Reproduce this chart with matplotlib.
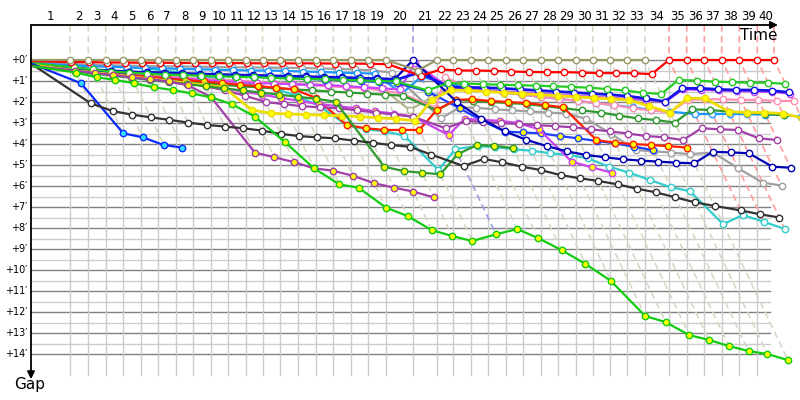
import matplotlib
matplotlib.use("Agg")
import matplotlib.pyplot as plt
from matplotlib.colors import to_rgb

# ---------------- data ----------------
# leader's cumulative time (minutes) at the end of laps 1..40
lap_times = [3.90, 5.73, 7.47, 9.23, 10.97, 12.73, 14.47, 16.23, 17.97, 19.70,
             21.47, 23.15, 24.90, 26.67, 28.47, 30.23, 31.97, 33.73, 35.50, 38.20,
             40.57, 42.23, 44.00, 45.73, 47.47, 49.23, 50.97, 52.73, 54.47, 56.17,
             57.90, 59.63, 61.40, 63.80, 65.57, 67.33, 69.07, 70.83, 72.63, 74.30]
lap_labels = ["1", "2", "3", "4", "5", "6", "7", "8", "9", "10",
              "11", "12", "13", "14", "15", "16", "17", "18", "19", "20",
              "21", "22", "23", "24", "25", "26", "27", "28", "29", "30",
              "31", "32", "33", "34", "35", "36", "37", "38", "39", "40"]
gap_ticks = [0, 1, 2, 3, 4, 5, 6, 7, 8, 9, 10, 11, 12, 13, 14]
gap_labels = ["+0′", "+1′", "+2′", "+3′", "+4′", "+5′", "+6′", "+7′",
              "+8′", "+9′", "+10′", "+11′", "+12′", "+13′", "+14′"]

# gaps (minutes) per rider, index 0 = start, then laps 1..N
olive = [0, 0, 0, 0, 0, 0, 0, 0, 0, 0, 0, 0, 0, 0, 0, 0, 0, 0, 0, 0, 0.5,
         0, 0, 0, 0, 0, 0, 0, 0, 0, 0, 0, 0, 0]
red = [0.05, 0.10, 0.10, 0.12, 0.12, 0.13, 0.13, 0.14, 0.14, 0.15, 0.15,
       0.15, 0.16, 0.16, 0.16, 0.16, 0.17, 0.17, 0.18, 0.20, 0.75,
       0.45, 0.50, 0.50, 0.52, 0.55, 0.57, 0.58, 0.58, 0.60, 0.62,
       0.62, 0.63, 0.67, 0, 0, 0, 0, 0, 0, 0]
gray = [0.1, 0.2, 0.22, 0.25, 0.27, 0.28, 0.3, 0.3, 0.32, 0.33, 0.35,
        0.35, 0.36, 0.37, 0.38, 0.4, 0.42, 0.45, 0.5, 0.6, 2.78,
        2.27, 2.27, 2.35, 2.4, 2.45, 2.5, 2.55, 2.8, 3.5, 4.29,
        4.35, 4.41, 4.48, 4.41, 5.16, 5.84, 5.98]
dodger = [0.15, 0.25, 0.3, 0.32, 0.35, 0.38, 0.4, 0.42, 0.44, 0.46, 0.48,
          0.5, 0.5, 0.52, 0.55, 0.57, 0.6, 0.62, 0.65, 1.6, 0.8,
          1.1, 1.3, 1.45, 1.55, 1.65, 1.75, 1.85, 1.95, 2.05, 2.15,
          2.25, 2.38, 2.46, 2.57, 2.57, 2.57, 2.58, 2.6, 2.62, 2.7]
navy = [0.2, 0.35, 0.45, 0.5, 0.55, 0.58, 0.6, 0.63, 0.65, 0.68, 0.7,
        0.72, 0.74, 0.76, 0.78, 0.8, 0.82, 0.85, 0.88, 0.9, 0.0,
        2.0, 2.8, 3.4, 3.8, 4.1, 4.35, 4.52, 4.63, 4.73, 4.79,
        4.84, 4.89, 4.92, 4.37, 4.4, 4.44, 5.08, 5.13]
blue2 = [0.2, 0.4, 0.5, 0.55, 0.6, 0.62, 0.65, 0.68, 0.7, 0.72, 0.74,
         0.76, 0.78, 0.8, 0.82, 0.84, 0.86, 0.88, 0.9, 0.95, 0.6,
         1.3, 1.3, 1.32, 1.35, 1.4, 1.45, 1.5, 1.55, 1.6, 1.65,
         1.72, 1.83, 1.98, 1.35, 1.35, 1.4, 1.43, 1.43, 1.46, 1.54]
violet = [0.25, 0.5, 0.6, 0.68, 0.75, 0.8, 0.85, 0.9, 0.95, 1.0, 1.05,
          1.1, 1.12, 1.15, 1.18, 1.2, 1.25, 1.3, 1.35, 1.4, 0.15,
          1.35, 1.4, 1.45, 1.5, 1.55, 1.6, 1.65, 1.7, 1.75, 1.8,
          1.85, 1.9, 2.0, 1.4, 1.42, 1.45, 1.48, 1.5, 1.52, 1.6]
khaki = [0.2, 0.45, 0.55, 0.62, 0.7, 0.75, 0.8, 0.85, 0.9, 0.95, 1.0,
         1.05, 1.08, 1.1, 1.15, 1.2, 1.25, 1.3, 1.35, 2.38, 1.8,
         1.3, 1.4, 1.48, 1.55, 1.6, 1.65, 1.7, 1.75, 1.8, 1.85,
         1.9, 1.95, 1.98, 1.35, 1.35]
green = [0.15, 0.35, 0.45, 0.55, 0.6, 0.65, 0.7, 0.72, 0.75, 0.78, 0.8,
         0.82, 0.85, 0.88, 0.9, 0.92, 0.95, 0.97, 1.0, 1.02, 1.45,
         1.1, 1.12, 1.15, 1.18, 1.2, 1.22, 1.25, 1.28, 1.32, 1.38,
         1.45, 1.56, 1.62, 0.95, 0.98, 1.03, 1.06, 1.08, 1.08, 1.14]
pink = [0.2, 0.4, 0.5, 0.6, 0.68, 0.75, 0.8, 0.85, 0.9, 0.95, 1.0,
        1.05, 1.1, 1.15, 1.2, 1.25, 1.3, 1.35, 1.45, 1.6, 2.3,
        0.8, 1.3, 1.45, 1.55, 1.65, 1.75, 1.85, 1.95, 2.05, 2.15,
        2.3, 2.4, 2.5, 1.9, 1.87, 1.87, 1.9, 1.9, 1.95, 1.95]
yellow = [0.25, 0.5, 0.6, 0.7, 0.8, 0.9, 1.0, 1.1, 1.2, 1.3, 2.38,
          2.54, 2.57, 2.6, 2.63, 2.66, 2.7, 2.75, 2.8, 2.89, 1.9,
          1.43, 1.45, 1.5, 1.55, 1.6, 1.65, 1.7, 1.75, 1.8, 1.85,
          1.9, 2.2, 2.5, 1.82, 1.82, 2.46, 2.5, 2.5, 2.55, 2.75]
cyan = [0.1, 0.24, 0.25, 0.3, 0.35, 0.4, 0.5, 0.6, 0.75, 0.9, 1.05,
        1.2, 1.4, 1.7, 2.2, 3.1, 3.3, 3.4, 3.6, 5.24, 4.24,
        4.1, 4.15, 4.25, 4.32, 4.44, 4.52, 4.68, 5.08, 5.37, 5.71,
        6.06, 6.24, 7.82, 7.38, 7.7, 8.05]
dkgreen_y = [0.3, 0.55, 0.65, 0.75, 0.85, 0.95, 1.05, 1.15, 1.25, 1.35, 1.45,
             1.55, 1.65, 1.75, 1.85, 1.98, 5.08, 5.29, 5.37, 5.44, 4.48,
             4.05, 4.08, 4.2]
dkgreen_w = [0.25, 0.5, 0.62, 0.72, 0.8, 0.88, 0.95, 1.02, 1.1, 1.18, 1.25,
             1.3, 1.35, 1.4, 1.45, 1.5, 1.55, 1.6, 1.65, 1.7, 2.4,
             1.9, 1.95, 2.0, 2.05, 2.1, 2.2, 2.3, 2.4, 2.5, 2.65,
             2.78, 2.86, 2.98, 2.35, 2.38, 2.46, 2.51, 2.57, 2.62]
purple_w = [0.3, 0.5, 0.6, 0.7, 0.8, 0.9, 1.0, 1.1, 1.25, 1.45, 1.7,
            2.0, 2.1, 2.2, 2.25, 2.3, 2.4, 2.5, 2.6, 2.7, 3.25,
            2.9, 2.95, 3.0, 3.05, 3.1, 3.15, 3.2, 3.3, 3.4, 3.5,
            3.62, 3.68, 3.81, 3.25, 3.3, 3.33, 3.73, 3.81]
purple_y = [0.3, 0.5, 0.62, 0.72, 0.82, 0.92, 1.02, 1.2, 1.76, 4.41, 4.63,
            4.87, 5.16, 5.27, 5.51, 5.87, 6.08, 6.27, 6.54]
violet_y = [0.3, 0.5, 0.6, 0.7, 0.8, 0.9, 1.0, 1.1, 1.2, 1.35, 1.5,
            1.65, 1.8, 1.95, 2.1, 2.2, 2.3, 2.45, 2.55, 2.7, 3.57,
            2.8, 2.85, 2.9, 3.0, 3.3, 4.84, 5.11, 5.37]
blue_y = [0.2, 0.4, 0.48, 0.52, 0.56, 0.6, 0.63, 0.66, 0.7, 0.73, 0.76,
          0.8, 0.83, 0.86, 0.9, 0.93, 0.96, 1.0, 1.05, 1.1, 1.5,
          2.3, 2.9, 3.41, 3.45, 3.49, 3.62, 3.73, 3.86, 3.97, 4.13, 4.29]
red_y = [0.25, 0.45, 0.55, 0.65, 0.72, 0.8, 0.88, 0.95, 1.02, 1.1, 1.18,
         1.25, 1.32, 1.4, 1.8, 3.1, 3.25, 3.33, 3.33, 3.33, 2.38,
         1.9, 1.87, 1.95, 2.0, 2.05, 2.15, 2.25, 3.81, 3.94, 4.0,
         4.05, 4.1, 4.17]
blue_c = [0.2, 1.11, 3.49, 3.68, 4.05, 4.17]
black = [0.25, 2.06, 2.43, 2.6, 2.73, 2.85, 2.98, 3.09, 3.17, 3.25, 3.36,
         3.52, 3.62, 3.68, 3.73, 3.84, 3.94, 4.05, 4.13, 4.5, 5.05,
         4.71, 4.87, 5.08, 5.24, 5.48, 5.63, 5.76, 5.92, 6.13, 6.3,
         6.54, 6.78, 6.95, 7.16, 7.35, 7.5]
lime = [0.3, 0.6, 0.82, 0.95, 1.11, 1.3, 1.43, 1.59, 1.78, 2.1, 2.7,
        3.9, 5.16, 5.92, 6.08, 7.03, 7.43, 8.1, 8.38, 8.62, 8.3,
        8.05, 8.48, 9.05, 9.71, 10.52, 12.19, 12.48, 13.1, 13.33, 13.62,
        13.86, 14.0, 14.29]

# (gaps, line colour, marker face colour, line width) in drawing order
series = [
    (cyan, "#33cccc", "white", 1.6),
    (gray, "#a0a0a0", "white", 1.6),
    (dodger, "#1e96ff", "white", 1.6),
    (khaki, "#b4b48c", "white", 1.6),
    (pink, "#ff8fb0", "white", 1.6),
    (violet, "#cc44ff", "white", 1.6),
    (dkgreen_w, "#2e9a2e", "white", 1.6),
    (blue_y, "#1f3fff", "#ffff00", 1.6),
    (red_y, "#ff2000", "#ffff00", 1.6),
    (violet_y, "#cc44ee", "#ffff00", 1.6),
    (purple_w, "#a040a8", "white", 1.6),
    (navy, "#0000b4", "white", 1.6),
    (blue2, "#1414e6", "white", 2.0),
    (green, "#22cc22", "white", 1.6),
    (yellow, "#eedd00", "#ffff00", 2.0),
    (dkgreen_y, "#2e9a2e", "#ffff00", 1.6),
    (purple_y, "#a040a8", "#ffff00", 1.6),
    (blue_c, "#0a2aff", "#33ddff", 1.6),
    (black, "#333333", "white", 1.6),
    (lime, "#11cc11", "#ffff00", 1.6),
    (red, "#ff0000", "white", 1.6),
    (olive, "#999966", "white", 1.6),
]

# ---------------- figure ----------------
fig = plt.figure(figsize=(8, 4), dpi=100)
ax = fig.add_axes([0, 0, 1, 1])
# 10 px per minute horizontally, 21 px per minute of gap vertically
ax.set_xlim(-3.1, 76.9)
ax.set_ylim(340 / 21, -60 / 21)
ax.axis("off")

top = -35 / 21          # gap value where the time axis sits
t_all = [0.0] + lap_times
n_laps = len(lap_times)


def lighten(c, f):
    r, g, b = to_rgb(c)
    return (r + (1 - r) * f, g + (1 - g) * f, b + (1 - b) * f)


# horizontal grid
x_end = 73.9
for k in range(0, 15):
    ax.plot([0, x_end], [k, k], color="#808080", lw=1.0, zorder=1)
    if k < 14:
        ax.plot([0, x_end], [k + 0.5, k + 0.5], color="#cccccc", lw=1.0, zorder=1)
# vertical grid
for t in lap_times[:-1]:
    ax.plot([t, t], [0, 15], color="#cccccc", lw=1.0, zorder=1)

# iso-lap dashed lines, coloured after the lap leader
for k in range(1, n_laps + 1):
    gaps_k = [(s[0][k], s[1]) for s in series if len(s[0]) > k]
    lead_col = min(gaps_k, key=lambda p: p[0])[1]
    gmax = max(p[0] for p in gaps_k)
    col = lighten(lead_col, 0.62)
    t = t_all[k]
    ax.plot([t, t, t + gmax], [top, 0, gmax], color=col, lw=1.2,
            ls=(0, (4, 2.5)), zorder=1.5)

# riders
for i, (g, col, face, lw) in enumerate(series):
    xs = [t_all[k] + g[k] for k in range(len(g))]
    z = 3 + i * 0.1
    ax.plot(xs, g, color=col, lw=lw, zorder=z, solid_joinstyle="round")
    ax.plot(xs[1:], g[1:], ls="none", marker="o", ms=4.6, mfc=face,
            mec=col, mew=1.0, zorder=z + 0.05)

# axes arrows
ax.annotate("", xy=(74.7, top), xytext=(0, top),
            arrowprops=dict(arrowstyle="-|>", color="black", lw=1.3,
                            mutation_scale=11, shrinkA=0, shrinkB=0), zorder=6)
ax.annotate("", xy=(0, 15.2), xytext=(0, top),
            arrowprops=dict(arrowstyle="-|>", color="black", lw=1.3,
                            mutation_scale=11, shrinkA=0, shrinkB=0), zorder=6)

# lap labels
for k in range(n_laps):
    xm = (t_all[k] + t_all[k + 1]) / 2
    ax.text(xm, -43 / 21, lap_labels[k], ha="center", va="center",
            fontsize=8.5, family="DejaVu Sans", color="black")
# gap labels
for v, lab in zip(gap_ticks, gap_labels):
    ax.text(-0.35, v, lab, ha="right", va="center", fontsize=7,
            family="DejaVu Sans", color="black")

ax.text(74.6, -25 / 21, "Time", ha="right", va="center", fontsize=11,
        family="DejaVu Sans")
ax.text(-0.1, 325 / 21, "Gap", ha="center", va="center", fontsize=11,
        family="DejaVu Sans")

fig.savefig("out.png", dpi=100, facecolor="white")
